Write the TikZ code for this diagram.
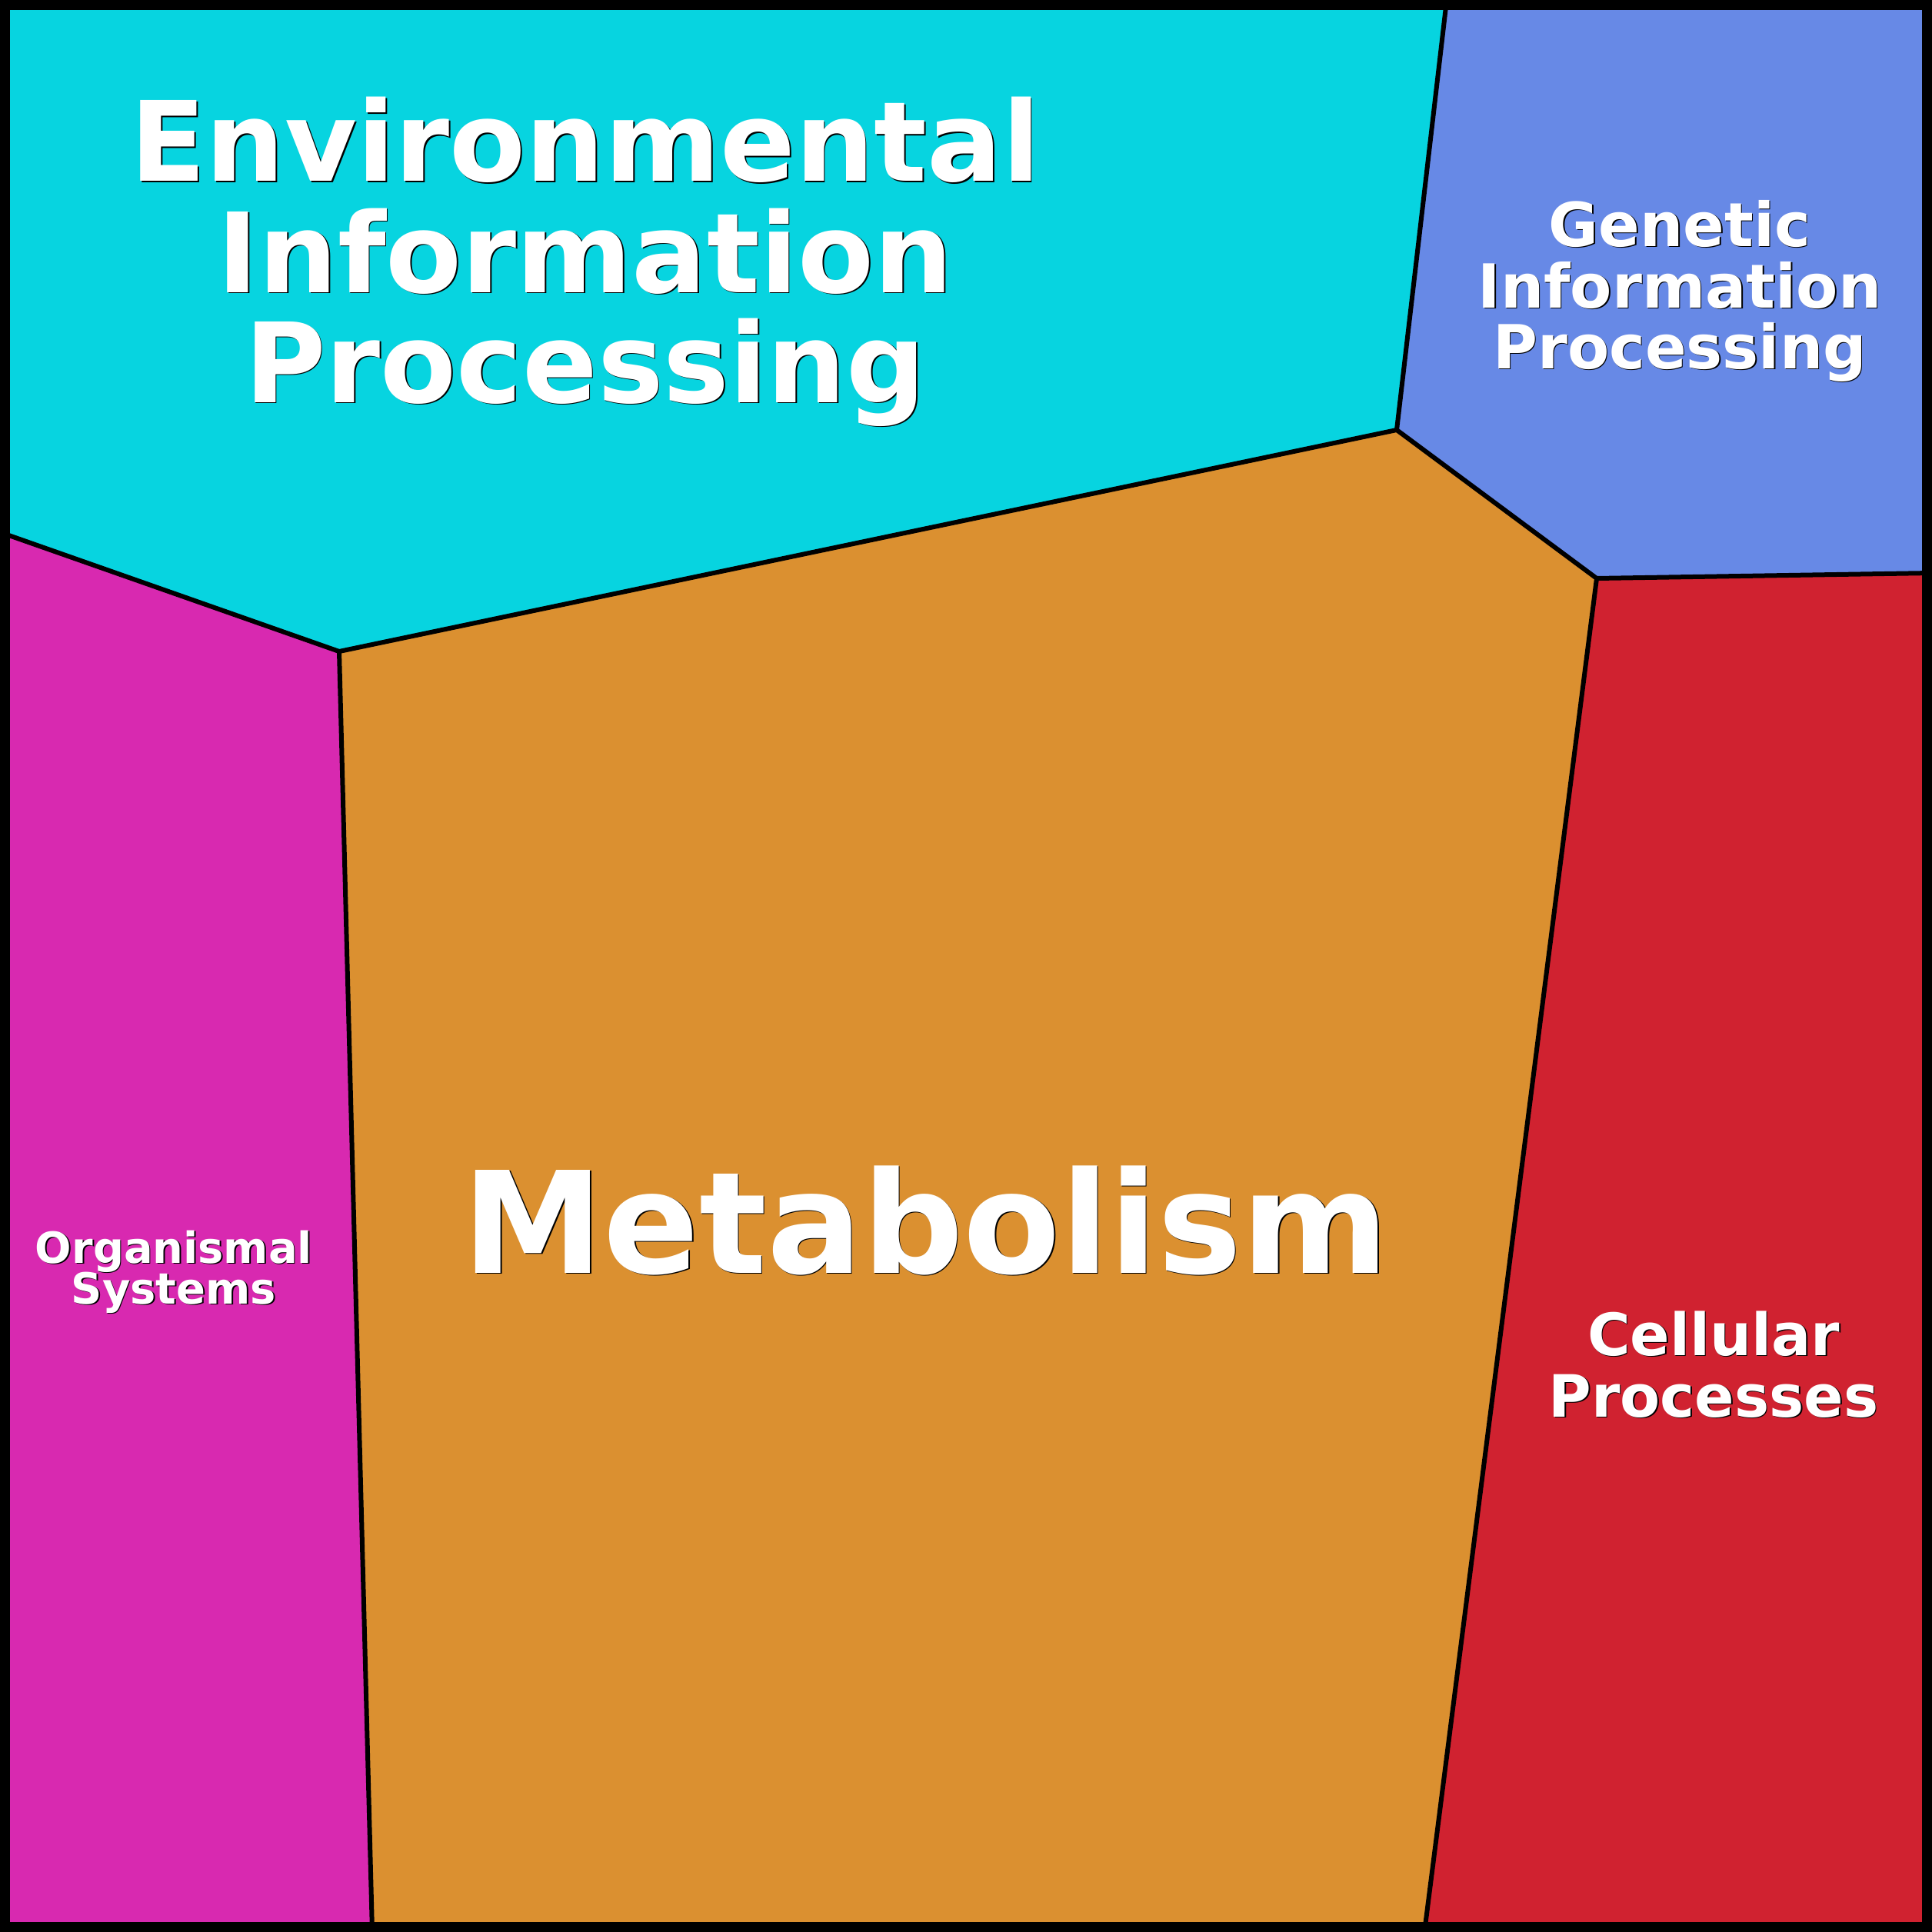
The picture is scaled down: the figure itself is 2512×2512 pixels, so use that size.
\documentclass[tikz,border=0pt]{standalone}
\usepackage{fontspec}
\setmainfont{DejaVu Sans}
\definecolor{cyanreg}{RGB}{7,212,224}
\definecolor{bluereg}{RGB}{103,137,230}
\definecolor{orangereg}{RGB}{219,144,48}
\definecolor{redreg}{RGB}{208,34,48}
\definecolor{magreg}{RGB}{216,41,176}
\begin{document}
\begin{tikzpicture}[x=0.1mm,y=-0.1mm,
  lab/.style={font=\bfseries, text=white, anchor=base, inner sep=0pt},
  shad/.style={lab, text=black, xshift=0.16mm, yshift=-0.16mm},
  border/.style={line width=0.6mm, line join=round, line cap=round}]
\useasboundingbox (0,0) rectangle (2512,2512);
\coordinate (TL) at (0,0);
\coordinate (TR) at (2512,0);
\coordinate (BR) at (2512,2512);
\coordinate (BL) at (0,2512);
\coordinate (A) at (1881,0);
\coordinate (B) at (1816,559);
\coordinate (C) at (2076,752);
\coordinate (D) at (2512,745);
\coordinate (E) at (441,847);
\coordinate (F) at (0,692);
\coordinate (G) at (484,2512);
\coordinate (H) at (1852,2512);
\fill[cyanreg] (TL) -- (A) -- (B) -- (E) -- (F) -- cycle;
\fill[bluereg] (A) -- (TR) -- (D) -- (C) -- (B) -- cycle;
\fill[orangereg] (E) -- (B) -- (C) -- (H) -- (G) -- cycle;
\fill[redreg] (C) -- (D) -- (BR) -- (H) -- cycle;
\fill[magreg] (F) -- (E) -- (G) -- (BL) -- cycle;
\draw[border] (A) -- (B) -- (C) -- (D);
\draw[border] (F) -- (E) -- (B);
\draw[border] (E) -- (G);
\draw[border] (C) -- (H);
\draw[line width=1.3mm] (6.5,6.5) rectangle (2505.5,2505.5);
\node[shad] (env1s) at (761,236) {\fontsize{41pt}{41pt}\selectfont Environmental};
\node[lab] (env1) at (761,236) {\fontsize{41pt}{41pt}\selectfont Environmental};
\node[shad] (env2s) at (761,380) {\fontsize{41pt}{41pt}\selectfont Information};
\node[lab] (env2) at (761,380) {\fontsize{41pt}{41pt}\selectfont Information};
\node[shad] (env3s) at (761,523) {\fontsize{41pt}{41pt}\selectfont Processing};
\node[lab] (env3) at (761,523) {\fontsize{41pt}{41pt}\selectfont Processing};
\node[shad] (gen1s) at (2184,320) {\fontsize{22.5pt}{22.5pt}\selectfont Genetic};
\node[lab] (gen1) at (2184,320) {\fontsize{22.5pt}{22.5pt}\selectfont Genetic};
\node[shad] (gen2s) at (2184,400) {\fontsize{22.5pt}{22.5pt}\selectfont Information};
\node[lab] (gen2) at (2184,400) {\fontsize{22.5pt}{22.5pt}\selectfont Information};
\node[shad] (gen3s) at (2184,479) {\fontsize{22.5pt}{22.5pt}\selectfont Processing};
\node[lab] (gen3) at (2184,479) {\fontsize{22.5pt}{22.5pt}\selectfont Processing};
\node[shad] (mets) at (1204,1655) {\fontsize{52.3pt}{52.3pt}\selectfont Metabolism};
\node[lab] (met) at (1204,1655) {\fontsize{52.3pt}{52.3pt}\selectfont Metabolism};
\node[shad] (org1s) at (226,1642) {\fontsize{15.9pt}{15.9pt}\selectfont Organismal};
\node[lab] (org1) at (226,1642) {\fontsize{15.9pt}{15.9pt}\selectfont Organismal};
\node[shad] (org2s) at (226,1695) {\fontsize{15.9pt}{15.9pt}\selectfont Systems};
\node[lab] (org2) at (226,1695) {\fontsize{15.9pt}{15.9pt}\selectfont Systems};
\node[shad] (cel1s) at (2228,1762) {\fontsize{21.6pt}{21.6pt}\selectfont Cellular};
\node[lab] (cel1) at (2228,1762) {\fontsize{21.6pt}{21.6pt}\selectfont Cellular};
\node[shad] (cel2s) at (2228,1842) {\fontsize{21.6pt}{21.6pt}\selectfont Processes};
\node[lab] (cel2) at (2228,1842) {\fontsize{21.6pt}{21.6pt}\selectfont Processes};
\end{tikzpicture}
\end{document}
